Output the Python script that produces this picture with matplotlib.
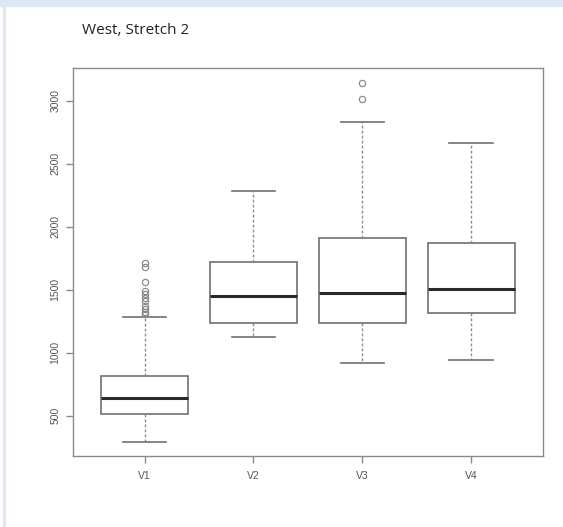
"""Boxplot West, Stretch 2 (R-style) recreated in matplotlib."""

import matplotlib.pyplot as plt
from matplotlib.patches import Rectangle

# box statistics
labels = ['V1', 'V2', 'V3', 'V4']
whisker_low = [293, 1126, 916, 945]
q1 = [518, 1237, 1240, 1320]
medians = [641, 1451, 1472, 1510]
q3 = [818, 1724, 1915, 1870]
whisker_high = [1285, 2283, 2835, 2670]
outliers = [
    [1309, 1327, 1348, 1374, 1409, 1432, 1467, 1494, 1565, 1679, 1714],
    [],
    [3017, 3145],
    [],
]
yticks = [500, 1000, 1500, 2000, 2500, 3000]

stats = []
for i in range(len(labels)):
    stats.append({
        'label': labels[i],
        'whislo': whisker_low[i],
        'q1': q1[i],
        'med': medians[i],
        'q3': q3[i],
        'whishi': whisker_high[i],
        'fliers': outliers[i],
    })

plt.rcParams['font.family'] = ['Liberation Sans', 'DejaVu Sans']

fig = plt.figure(figsize=(5.63, 5.27), dpi=100)

# bordure de la capture d'ecran
fig.patches.append(Rectangle((0, 1 - 6 / 527), 1, 6 / 527, transform=fig.transFigure,
                             color='#dce8f5', zorder=0))
fig.patches.append(Rectangle((3 / 563, 0), 1.5 / 563, 1 - 6 / 527, transform=fig.transFigure,
                             color='#e3e9f0', zorder=0))

fig.text(82 / 563, 1 - 31 / 527, 'West, Stretch 2', fontsize=11, color='#222222',
         va='center', ha='left', family=['Open Sans', 'DejaVu Sans'])

ax = fig.add_axes([72.7 / 563, 1 - 456 / 527, (543 - 72.7) / 563, (456 - 67.7) / 527])

cinza = '#707070'
ax.bxp(stats, positions=range(1, 5), widths=0.8, patch_artist=True,
       boxprops=dict(facecolor='white', edgecolor=cinza, linewidth=1.2),
       medianprops=dict(color='#2a2a2a', linewidth=2.2),
       whiskerprops=dict(color='#8a8a8a', linewidth=1.0, linestyle=(0, (2, 1.6))),
       capprops=dict(color=cinza, linewidth=1.2),
       flierprops=dict(marker='o', markerfacecolor='none', markeredgecolor='#8a8a8a',
                       markersize=4.5, markeredgewidth=0.9),
       capwidths=0.4)

ymin = 181
ymax = 3264
ax.set_ylim(ymin, ymax)
ax.set_xlim(0.34, 4.66)
ax.set_yticks(yticks)
ax.set_yticklabels([str(v) for v in yticks], rotation=90, va='center')
ax.set_xticks(range(1, 5))
ax.set_xticklabels(labels)

for s in ax.spines.values():
    s.set_color('#8a8a8a')
    s.set_linewidth(1.0)
ax.tick_params(axis='both', colors='#8a8a8a', length=5, width=1.0, labelsize=7.5,
               labelcolor='#555555')
ax.tick_params(axis='x', pad=6)
ax.tick_params(axis='y', pad=4)

fig.savefig('out.png', dpi=100)
